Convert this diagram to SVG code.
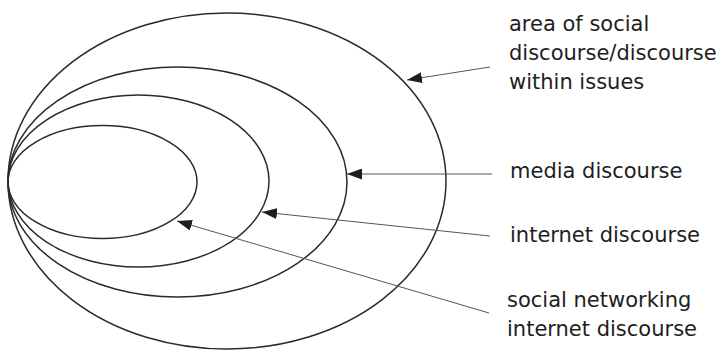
<svg xmlns="http://www.w3.org/2000/svg" width="722" height="350" viewBox="0 0 722 350">
<style>
.e{fill:none;stroke:#2a2a2a;stroke-width:1.5}
.c{fill:none;stroke:#555;stroke-width:1;marker-end:url(#ah)}
.t{font-family:"DejaVu Sans",Verdana,sans-serif;font-size:21px;fill:#1e1e1e}
</style>
<defs>
<marker id="ah" markerWidth="16" markerHeight="11" refX="15" refY="5.5" orient="auto" markerUnits="userSpaceOnUse">
<path d="M0,0 L15,5.5 L0,11 Z" fill="#1e1e1e"/>
</marker>
</defs>
<g id="area"><ellipse class="e" cx="227" cy="181" rx="219" ry="168"/></g>
<g id="media"><ellipse class="e" cx="177.5" cy="182" rx="169.5" ry="115"/></g>
<g id="internet"><ellipse class="e" cx="138.5" cy="181" rx="130.5" ry="86"/></g>
<g id="social"><ellipse class="e" cx="102.5" cy="182" rx="94.5" ry="56.5"/></g>
<g id="connectors">
<line class="c" x1="490" y1="67" x2="407" y2="80"/>
<line class="c" x1="492" y1="174" x2="347" y2="174"/>
<line class="c" x1="490" y1="236" x2="262" y2="212"/>
<line class="c" x1="489" y1="313" x2="177" y2="221"/>
</g>
<g id="labels">
<text class="t" x="509" y="31">area of social</text>
<text class="t" x="509" y="60">discourse/discourse</text>
<text class="t" x="509" y="89">within issues</text>
<text class="t" x="510" y="178">media discourse</text>
<text class="t" x="510" y="242">internet discourse</text>
<text class="t" x="507" y="307">social networking</text>
<text class="t" x="507" y="336">internet discourse</text>
</g>
</svg>
